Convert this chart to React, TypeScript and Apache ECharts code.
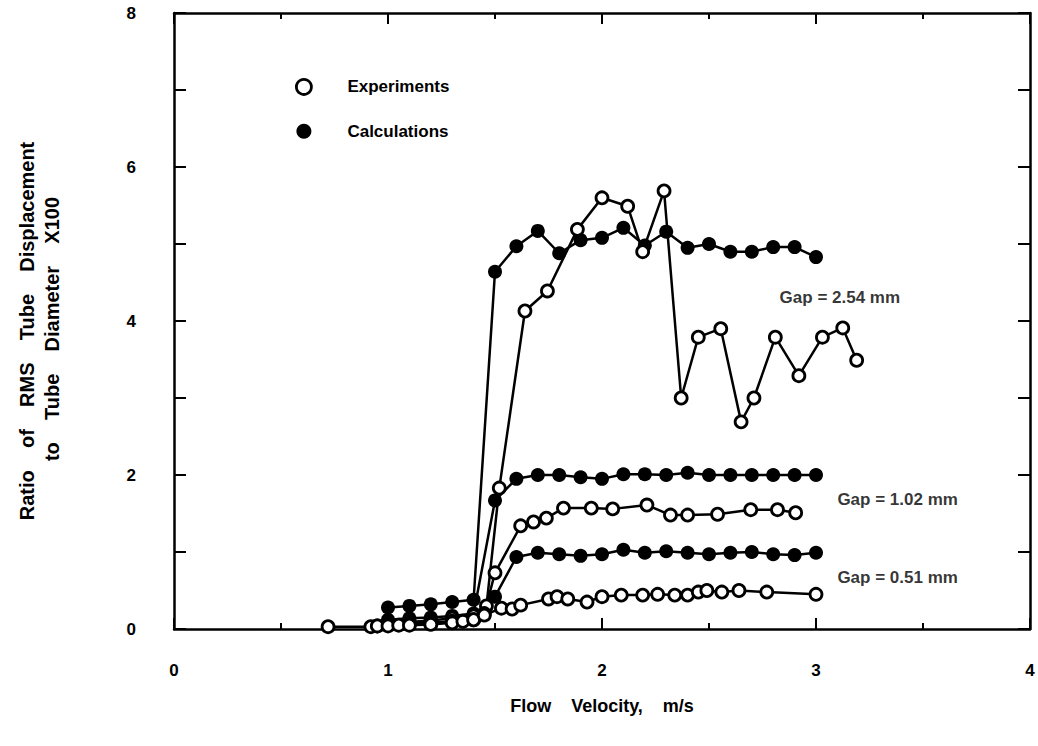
import React, { useEffect, useRef } from "react";
import * as echarts from "echarts";

const calcX = [1.0, 1.1, 1.2, 1.3, 1.4, 1.5, 1.6, 1.7, 1.8, 1.9, 2.0, 2.1, 2.2, 2.3, 2.4, 2.5, 2.6, 2.7, 2.8, 2.9, 3.0];
const gap254CalcY = [0.28, 0.30, 0.32, 0.35, 0.38, 4.64, 4.97, 5.17, 4.88, 5.05, 5.08, 5.21, 4.98, 5.16, 4.95, 5.0, 4.9, 4.9, 4.96, 4.96, 4.83];
const gap102CalcY = [0.12, 0.14, 0.15, 0.17, 0.2, 1.67, 1.95, 2.0, 2.0, 1.97, 1.95, 2.01, 2.01, 2.0, 2.03, 2.0, 2.0, 2.0, 2.0, 2.0, 2.0];
const gap051CalcY = [0.05, 0.06, 0.07, 0.09, 0.12, 0.42, 0.935, 0.99, 0.97, 0.95, 0.97, 1.03, 0.99, 1.01, 0.99, 0.97, 0.99, 1.0, 0.97, 0.96, 0.99];

const gap254ExpX = [0.95, 1.0, 1.1, 1.2, 1.3, 1.4, 1.46, 1.52, 1.64, 1.745, 1.885, 2.0, 2.12, 2.19, 2.29, 2.37, 2.45, 2.555, 2.65, 2.71, 2.81, 2.92, 3.03, 3.125, 3.19];
const gap254ExpY = [0.04, 0.07, 0.09, 0.11, 0.14, 0.17, 0.3, 1.83, 4.13, 4.39, 5.19, 5.6, 5.49, 4.9, 5.69, 3.0, 3.79, 3.9, 2.69, 3.0, 3.79, 3.29, 3.79, 3.91, 3.49];

const gap102ExpX = [1.0, 1.1, 1.2, 1.3, 1.4, 1.45, 1.5, 1.62, 1.68, 1.74, 1.82, 1.95, 2.05, 2.21, 2.32, 2.4, 2.54, 2.695, 2.82, 2.905];
const gap102ExpY = [0.05, 0.07, 0.08, 0.1, 0.12, 0.2, 0.73, 1.34, 1.39, 1.44, 1.57, 1.57, 1.56, 1.61, 1.48, 1.48, 1.49, 1.55, 1.55, 1.51];

const gap051ExpX = [0.72, 0.92, 0.95, 1.0, 1.05, 1.1, 1.2, 1.3, 1.35, 1.4, 1.45, 1.53, 1.58, 1.62, 1.75, 1.79, 1.84, 1.93, 2.0, 2.09, 2.19, 2.26, 2.34, 2.4, 2.45, 2.49, 2.56, 2.64, 2.77, 3.0];
const gap051ExpY = [0.03, 0.03, 0.04, 0.04, 0.05, 0.05, 0.06, 0.08, 0.1, 0.12, 0.18, 0.27, 0.26, 0.31, 0.39, 0.42, 0.39, 0.35, 0.42, 0.44, 0.44, 0.45, 0.44, 0.44, 0.48, 0.5, 0.48, 0.5, 0.48, 0.45];

const xTicks = [0, 1, 2, 3, 4];
const yTicks = [0, 2, 4, 6, 8];

const gapLabels = [
  { text: "Gap = 2.54 mm", x: 2.83, y: 4.3 },
  { text: "Gap = 1.02 mm", x: 3.1, y: 1.68 },
  { text: "Gap = 0.51 mm", x: 3.1, y: 0.67 },
];

const FONT = "'Liberation Sans', Arial, sans-serif";

const zip = (xs: number[], ys: number[]) => xs.map((x, i) => [x, ys[i]]);

export default function App() {
  const ref = useRef<HTMLDivElement>(null);
  useEffect(() => {
    if (!ref.current) return;
    const chart = echarts.init(ref.current, null, { renderer: "svg" });

    const expStyle = {
      type: "line" as const,
      name: "Experiments",
      symbol: "circle",
      symbolSize: 12,
      lineStyle: { color: "#000", width: 2.5 },
      itemStyle: { color: "#fff", borderColor: "#000", borderWidth: 2.8 },
      z: 3,
    };
    const calcStyle = {
      type: "line" as const,
      name: "Calculations",
      symbol: "circle",
      symbolSize: 14,
      lineStyle: { color: "#000", width: 2.5 },
      itemStyle: { color: "#000", borderColor: "#000", borderWidth: 0 },
      z: 2,
    };

    const axisCommon = {
      type: "value" as const,
      axisLine: { show: true, onZero: false, lineStyle: { color: "#000", width: 2.5 } },
      splitLine: { show: false },
    };

    const option: any = {
      animation: false,
      backgroundColor: "#fff",
      grid: { left: 174, right: 8, top: 13, bottom: 117, containLabel: false },
      legend: {
        orient: "vertical",
        left: 290,
        top: 73,
        itemGap: 27,
        itemWidth: 15,
        itemHeight: 15,
        selectedMode: false,
        textStyle: { fontFamily: FONT, fontWeight: "bold", fontSize: 17, color: "#000", padding: [0, 0, 0, 31] },
        data: [
          { name: "Experiments", icon: "circle", itemStyle: { color: "#fff", borderColor: "#000", borderWidth: 2.8 } },
          { name: "Calculations", icon: "circle", itemStyle: { color: "#000", borderWidth: 0 } },
        ],
      },
      xAxis: [
        {
          ...axisCommon,
          position: "bottom",
          min: 0,
          max: 4,
          interval: 1,
          axisTick: { show: true, inside: true, length: 11, lineStyle: { color: "#000", width: 2 } },
          minorTick: { show: true, splitNumber: 2, length: 6, lineStyle: { color: "#000", width: 2 } },
          axisLabel: {
            margin: 33,
            color: "#000",
            fontFamily: FONT,
            fontWeight: "bold",
            fontSize: 17,
            formatter: (v: number) => (xTicks.includes(v) ? String(v) : ""),
          },
        },
        {
          ...axisCommon,
          position: "top",
          min: 0,
          max: 4,
          interval: 1,
          axisTick: { show: true, inside: true, length: 11, lineStyle: { color: "#000", width: 2 } },
          minorTick: { show: true, splitNumber: 2, length: 6, lineStyle: { color: "#000", width: 2 } },
          axisLabel: { show: false },
        },
      ],
      yAxis: [
        {
          ...axisCommon,
          position: "left",
          min: 0,
          max: 8,
          interval: 1,
          axisTick: { show: true, inside: true, length: 12, lineStyle: { color: "#000", width: 2 } },
          axisLabel: {
            margin: 38,
            color: "#000",
            fontFamily: FONT,
            fontWeight: "bold",
            fontSize: 17,
            formatter: (v: number) => (yTicks.includes(v) ? String(v) : ""),
          },
        },
        {
          ...axisCommon,
          position: "right",
          min: 0,
          max: 8,
          interval: 1,
          axisTick: { show: true, inside: true, length: 12, lineStyle: { color: "#000", width: 2 } },
          axisLabel: { show: false },
        },
      ],
      series: [
        { ...calcStyle, data: zip(calcX, gap254CalcY) },
        { ...calcStyle, data: zip(calcX, gap102CalcY) },
        { ...calcStyle, data: zip(calcX, gap051CalcY) },
        { ...expStyle, data: zip(gap254ExpX, gap254ExpY) },
        { ...expStyle, data: zip(gap102ExpX, gap102ExpY) },
        { ...expStyle, data: zip(gap051ExpX, gap051ExpY) },
        {
          type: "scatter",
          name: "labels",
          symbolSize: 0,
          silent: true,
          data: gapLabels.map((g) => ({ value: [g.x, g.y], name: g.text })),
          label: {
            show: true,
            position: "right",
            distance: 0,
            formatter: (p: any) => p.name,
            color: "#000",
            fontFamily: FONT,
            fontWeight: "bold",
            fontSize: 17,
          },
        },
      ],
      graphic: [
        {
          type: "text",
          x: 27,
          y: 331,
          rotation: Math.PI / 2,
          style: {
            text: ["Ratio", "of", "RMS", "Tube", "Displacement"].join("    "),
            fontFamily: FONT,
            fontWeight: "bold",
            fontSize: 20,
            fill: "#000",
            align: "center",
            verticalAlign: "middle",
          },
        },
        {
          type: "text",
          x: 52,
          y: 329,
          rotation: Math.PI / 2,
          style: {
            text: ["to", "Tube", "Diameter", "X100"].join("    "),
            fontFamily: FONT,
            fontWeight: "bold",
            fontSize: 20,
            fill: "#000",
            align: "center",
            verticalAlign: "middle",
          },
        },
        {
          type: "text",
          x: 602,
          y: 706,
          style: {
            text: ["Flow", "Velocity,", "m/s"].join("    "),
            fontFamily: FONT,
            fontWeight: "bold",
            fontSize: 18,
            fill: "#000",
            align: "center",
            verticalAlign: "middle",
          },
        },
      ],
    };
    chart.setOption(option);
    return () => chart.dispose();
  }, []);
  return (
    <div
      ref={ref}
      style={{ position: "fixed", left: 0, top: 0, width: 1038, height: 746, background: "#fff" }}
    />
  );
}
